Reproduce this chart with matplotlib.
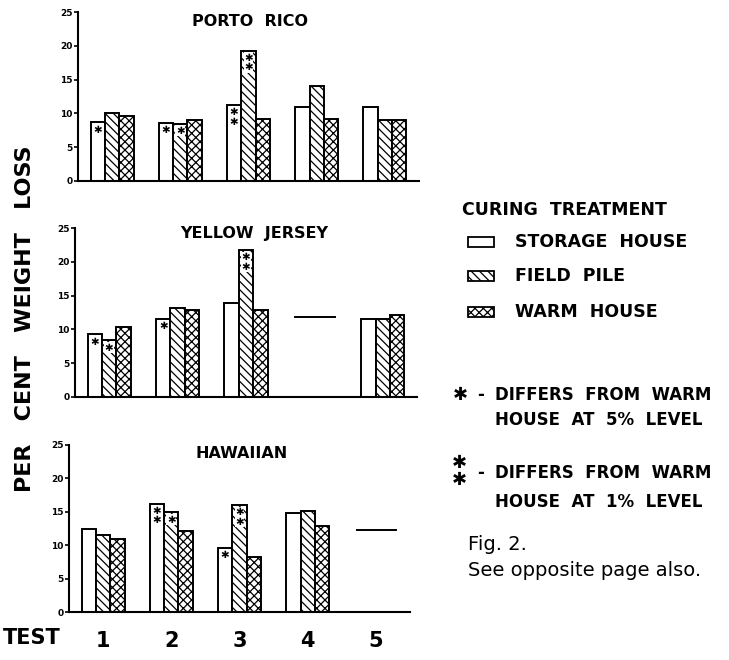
import numpy as np
import matplotlib
matplotlib.use("Agg")
import matplotlib.pyplot as plt
from matplotlib.patches import Rectangle

# ---- data ----
tests = [1, 2, 3, 4, 5]
test_labels = ["1", "2", "3", "4", "5"]
treatments = ["STORAGE  HOUSE", "FIELD  PILE", "WARM  HOUSE"]

porto_rico_storage = [8.7, 8.6, 11.3, 11.0, 10.9]
porto_rico_field = [10.1, 8.5, 19.3, 14.1, 9.0]
porto_rico_warm = [9.6, 9.0, 9.2, 9.1, 9.0]

yellow_jersey_storage = [9.3, 11.6, 13.9, np.nan, 11.5]
yellow_jersey_field = [8.4, 13.2, 21.8, np.nan, 11.5]
yellow_jersey_warm = [10.4, 12.9, 12.9, np.nan, 12.2]
yellow_jersey_line_test = [4]
yellow_jersey_line_value = [11.9]

hawaiian_storage = [12.4, 16.2, 9.6, 14.8, np.nan]
hawaiian_field = [11.5, 14.9, 16.0, 15.1, np.nan]
hawaiian_warm = [11.0, 12.2, 8.2, 12.9, np.nan]
hawaiian_line_test = [5]
hawaiian_line_value = [12.3]

# significance: (test, treatment index, number of stars)
porto_rico_stars = [(1, 0, 1), (2, 0, 1), (2, 1, 1), (3, 0, 2), (3, 1, 2)]
yellow_jersey_stars = [(1, 0, 1), (1, 1, 1), (2, 0, 1), (3, 1, 2)]
hawaiian_stars = [(2, 0, 2), (2, 1, 1), (3, 0, 1), (3, 1, 2)]

panels = [
    ("PORTO  RICO", [porto_rico_storage, porto_rico_field, porto_rico_warm],
     porto_rico_stars, [], []),
    ("YELLOW  JERSEY", [yellow_jersey_storage, yellow_jersey_field, yellow_jersey_warm],
     yellow_jersey_stars, yellow_jersey_line_test, yellow_jersey_line_value),
    ("HAWAIIAN", [hawaiian_storage, hawaiian_field, hawaiian_warm],
     hawaiian_stars, hawaiian_line_test, hawaiian_line_value),
]

# ---- figure ----
W, H = 729, 660
fig = plt.figure(figsize=(W / 100, H / 100), dpi=100)
plt.rcParams['hatch.linewidth'] = 0.9


def fx(px):
    return px / W


def fy(py):
    return 1 - py / H


# axes boxes in pixels: left, right, bottom(y of zero), top(y of 25)
boxes = [(78, 419, 181, 12), (75, 417, 397, 228), (69, 410, 612, 445)]
title_pos = [(250, 21), (254, 234), (242, 453)]
hatches = ['', '\\\\\\\\', 'xxxx']
bw = 0.21
offsets = [-bw, 0, bw]

axes = []
for (title, series, stars, ltests, lvals), (l, r, b, t), (tx, ty) in zip(panels, boxes, title_pos):
    ax = fig.add_axes([fx(l), fy(b), fx(r) - fx(l), fy(t) - fy(b)])
    axes.append(ax)
    x = np.array(tests, dtype=float)
    for k, vals in enumerate(series):
        ax.bar(x + offsets[k], vals, width=bw, facecolor='white', edgecolor='black',
               linewidth=1.4, hatch=hatches[k], label=treatments[k])
    for tt, vv in zip(ltests, lvals):
        ax.plot([tt - 0.28, tt + 0.3], [vv, vv], color='black', lw=1.4)
    for (tt, k, n) in stars:
        top = series[k][tt - 1]
        ys = [top - 1.1] if n == 1 else [top - 1.1, top - 2.5]
        for yy in ys:
            ax.text(tt + offsets[k], yy, '✱', ha='center', va='center', fontsize=7.5,
                    color='black',
                    bbox=dict(boxstyle='square,pad=0.05', fc='white', ec='none') if k > 0 else None)
    ax.set_xlim(0.5, 5.5)
    ax.set_ylim(0, 25)
    ax.set_yticks([0, 5, 10, 15, 20, 25])
    ax.set_yticklabels(['0', '5', '10', '15', '20', '25'])
    ax.tick_params(axis='y', direction='out', length=3, width=1.2, labelsize=6.5, pad=1)
    for lab in ax.get_yticklabels():
        lab.set_fontweight('bold')
    ax.spines['top'].set_visible(False)
    ax.spines['right'].set_visible(False)
    ax.spines['left'].set_linewidth(1.5)
    ax.spines['bottom'].set_linewidth(1.5)
    fig.text(fx(tx), fy(ty), title, ha='center', va='center', fontsize=11.5,
             fontweight='bold')

for ax in axes[:2]:
    ax.set_xticks([])
ax3 = axes[2]
ax3.set_xticks(tests)
ax3.set_xticklabels(test_labels)
ax3.tick_params(axis='x', length=0, pad=14, labelsize=15)
for lab in ax3.get_xticklabels():
    lab.set_fontweight('bold')

fig.text(fx(3), fy(638), 'TEST', ha='left', va='center', fontsize=15, fontweight='bold')
fig.text(fx(25), fy(319), 'PER   CENT   WEIGHT   LOSS', ha='center', va='center',
         rotation=90, fontsize=16, fontweight='bold')

# legend
fig.text(fx(462), fy(210), 'CURING  TREATMENT', ha='left', va='center', fontsize=12.5,
         fontweight='bold')
leg_y = [242, 276, 312]
for k, yy in enumerate(leg_y):
    rect = Rectangle((fx(468), fy(yy + 5)), fx(26), fy(0) - fy(10), transform=fig.transFigure,
                     facecolor='white', edgecolor='black', linewidth=1.3, hatch=hatches[k])
    fig.add_artist(rect)
    fig.text(fx(515), fy(yy), treatments[k], ha='left', va='center', fontsize=12.5,
             fontweight='bold')

# significance notes
note_kw = dict(ha='left', va='center', fontsize=12, fontweight='bold')
fig.text(fx(460), fy(395), '✱', ha='center', va='center', fontsize=13, fontweight='bold')
fig.text(fx(477), fy(395), '-', **note_kw)
fig.text(fx(495), fy(395), 'DIFFERS  FROM  WARM', **note_kw)
fig.text(fx(495), fy(420), 'HOUSE  AT  5%  LEVEL', **note_kw)
fig.text(fx(459), fy(463), '✱', ha='center', va='center', fontsize=13, fontweight='bold')
fig.text(fx(459), fy(480), '✱', ha='center', va='center', fontsize=13, fontweight='bold')
fig.text(fx(477), fy(473), '-', **note_kw)
fig.text(fx(495), fy(473), 'DIFFERS  FROM  WARM', **note_kw)
fig.text(fx(495), fy(502), 'HOUSE  AT  1%  LEVEL', **note_kw)

fig.text(fx(468), fy(545), 'Fig. 2.', ha='left', va='center', fontsize=14)
fig.text(fx(468), fy(571), 'See opposite page also.', ha='left', va='center', fontsize=14)

fig.savefig('out.png', dpi=100, facecolor='white')
